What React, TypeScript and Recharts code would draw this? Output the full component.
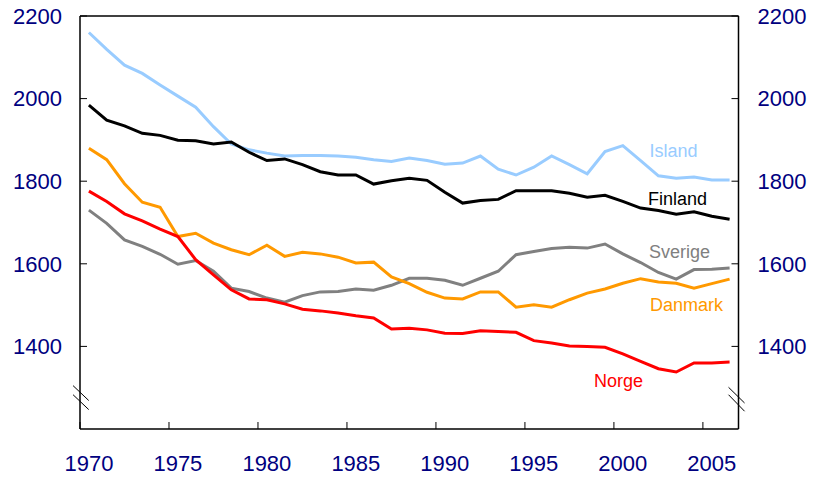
import { LineChart, Line, XAxis, YAxis, ReferenceLine, ReferenceDot } from "recharts";

const years = Array.from({ length: 37 }, (_, i) => 1970 + i);

const island = [
  2160, 2119, 2081, 2061, 2033, 2006, 1979, 1932, 1890, 1876,
  1868, 1861, 1862, 1862, 1861, 1858, 1852, 1848, 1856, 1850,
  1841, 1844, 1861, 1829, 1815, 1834, 1861, 1840, 1818, 1872,
  1886, 1850, 1813, 1807, 1810, 1803, 1803,
];
const finland = [
  1984, 1948, 1934, 1916, 1911, 1899, 1898, 1890, 1895, 1870,
  1850, 1854, 1840, 1823, 1815, 1815, 1793, 1801, 1807, 1802,
  1773, 1747, 1753, 1756, 1777, 1777, 1777, 1771, 1761, 1766,
  1751, 1735, 1729, 1720, 1726, 1715, 1708,
];
const sverige = [
  1730, 1698, 1658, 1642, 1623, 1599, 1608, 1582, 1541, 1533,
  1517, 1507, 1523, 1532, 1533, 1539, 1536, 1548, 1565, 1565,
  1560, 1548, 1565, 1582, 1622, 1630, 1637, 1640, 1638, 1648,
  1624, 1603, 1579, 1563, 1586, 1587, 1590,
];
const danmark = [
  1880, 1852, 1794, 1749, 1737, 1666, 1674, 1650, 1634, 1622,
  1645, 1618, 1628, 1624, 1616, 1602, 1604, 1568, 1552, 1531,
  1517, 1515, 1532, 1532, 1495, 1501, 1495, 1513, 1529, 1539,
  1553, 1564, 1556, 1553, 1541, 1552, 1563,
];
const norge = [
  1776, 1751, 1721, 1704, 1684, 1666, 1610, 1573, 1537, 1515,
  1513, 1503, 1490, 1486, 1481, 1474, 1469, 1442, 1444, 1440,
  1432, 1431, 1438, 1436, 1434, 1414, 1408, 1401, 1400, 1398,
  1382, 1364, 1346, 1338, 1360, 1360, 1362,
];

const xTicks = [1970, 1975, 1980, 1985, 1990, 1995, 2000, 2005];
const yTicks = [1400, 1600, 1800, 2000, 2200];

const series = [
  { key: "island", name: "Island", color: "#99ccff", lx: 2003.35, ly: 1873 },
  { key: "finland", name: "Finland", color: "#000000", lx: 2003.57, ly: 1757 },
  { key: "sverige", name: "Sverige", color: "#808080", lx: 2003.69, ly: 1629 },
  { key: "danmark", name: "Danmark", color: "#ff9900", lx: 2004.08, ly: 1501 },
  { key: "norge", name: "Norge", color: "#ff0000", lx: 2000.26, ly: 1317 },
];

// each year is drawn in the middle of its one-year band
const data = years.map((y, i) => ({
  x: y + 0.5,
  island: island[i],
  finland: finland[i],
  sverige: sverige[i],
  danmark: danmark[i],
  norge: norge[i],
}));

const NAVY = "#000080";
const FONT = '"Liberation Sans", Arial, sans-serif';

const XTick = (props: any) => {
  const { x, y, payload } = props;
  // labels sit centred on the year band, not on the tick
  return (
    <text x={x + 8.9} y={y + 16} textAnchor="middle" fill={NAVY} fontSize={22} fontFamily={FONT}>
      {payload.value}
    </text>
  );
};

const breaks = [
  { side: "l", a: [1969.61, 1305], b: [1970.49, 1269] },
  { side: "l", a: [1969.61, 1283], b: [1970.49, 1247] },
  { side: "r", a: [2006.44, 1301], b: [2007.34, 1263] },
  { side: "r", a: [2006.44, 1283], b: [2007.34, 1243] },
];

export default function App() {
  return (
    <div style={{ position: "absolute", left: 0, top: 0, fontFamily: FONT }}>
      <LineChart width={813} height={479} data={data} margin={{ top: 16, right: 0, bottom: 0, left: 0 }}>
        <XAxis
          dataKey="x"
          type="number"
          domain={[1970, 2007]}
          ticks={xTicks}
          allowDataOverflow
          height={50}
          tickSize={-7}
          tickMargin={33}
          axisLine={{ stroke: "#000", strokeWidth: 1.5 }}
          tickLine={{ stroke: "#000", strokeWidth: 1 }}
          tick={<XTick />}
        />
        <YAxis
          yAxisId="left"
          type="number"
          domain={[1200, 2200]}
          ticks={yTicks}
          allowDataOverflow
          width={80}
          tickSize={-7}
          tickMargin={25}
          axisLine={{ stroke: "#000", strokeWidth: 1.5 }}
          tickLine={{ stroke: "#000", strokeWidth: 1 }}
          tick={{ fill: NAVY, fontSize: 22 }}
        />
        <YAxis
          yAxisId="right"
          orientation="right"
          type="number"
          domain={[1200, 2200]}
          ticks={yTicks}
          allowDataOverflow
          width={74.5}
          tickSize={-7}
          tickMargin={26}
          axisLine={{ stroke: "#000", strokeWidth: 1.5 }}
          tickLine={{ stroke: "#000", strokeWidth: 1 }}
          tick={{ fill: NAVY, fontSize: 22, textAnchor: "start" }}
        />
        <ReferenceLine yAxisId="left" y={2200} stroke="#000" strokeWidth={1.5} />
        {breaks.map((b, i) => (
          <ReferenceLine
            key={i}
            yAxisId="left"
            ifOverflow="visible"
            stroke="#000"
            strokeWidth={1}
            segment={[
              { x: b.a[0], y: b.a[1] },
              { x: b.b[0], y: b.b[1] },
            ]}
          />
        ))}
        {series.map((s) => (
          <Line
            key={s.key}
            yAxisId="left"
            type="linear"
            dataKey={s.key}
            stroke={s.color}
            strokeWidth={3}
            dot={false}
            isAnimationActive={false}
          />
        ))}
        {series.map((s) => (
          <ReferenceDot
            key={s.key + "-label"}
            yAxisId="left"
            x={s.lx}
            y={s.ly}
            r={0}
            fill="none"
            stroke="none"
            label={{ value: s.name, position: "center", fill: s.color, fontSize: 18 }}
          />
        ))}
      </LineChart>
    </div>
  );
}
